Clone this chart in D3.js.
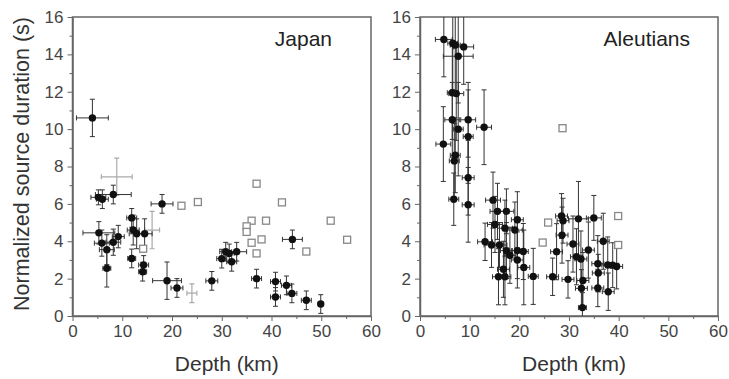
<!DOCTYPE html>
<html>
<head>
<meta charset="utf-8">
<script src="https://cdn.jsdelivr.net/npm/d3@7"></script>
<style>
  body { margin: 0; background: #fff; }
  svg { display: block; font-family: "Liberation Sans", Arial, sans-serif; }
</style>
</head>
<body>
<svg id="chart" width="729" height="379"></svg>
<script>
// Japan, filled symbols: depth (km), duration (s), depth error, duration error
const japanDepth    = [4.0, 5.2, 6.0, 8.2, 18.0, 5.3, 5.9, 6.9, 8.2, 9.2, 6.9, 11.9, 12.2, 12.9, 14.5, 11.9, 14.3, 14.1, 19.0, 21.0, 28.0, 30.0, 30.8, 31.5, 33.0, 32.0, 37.0, 40.8, 40.8, 43.0, 44.1, 44.2, 47.0, 49.9];
const japanDur      = [10.6, 6.35, 6.25, 6.5, 6.0, 4.45, 3.9, 3.55, 3.95, 4.25, 2.55, 5.25, 4.6, 4.4, 4.4, 3.08, 2.73, 2.37, 1.89, 1.5, 1.88, 3.07, 3.44, 3.35, 3.44, 2.9, 2.0, 1.84, 1.02, 1.64, 1.21, 4.1, 0.84, 0.64];
const japanDepthErr = [3.2, 1.5, 1.2, 3.6, 2.2, 3.2, 1.5, 1.5, 1.5, 1.2, 0.8, 1.0, 1.2, 1.5, 1.5, 0.8, 1.0, 0.8, 2.9, 1.2, 1.2, 1.0, 1.2, 1.0, 2.0, 1.0, 1.0, 1.0, 1.0, 1.0, 1.0, 2.0, 1.0, 0.5];
const japanDurErr   = [1.0, 0.4, 0.5, 0.5, 0.5, 0.6, 0.7, 0.8, 0.7, 0.6, 1.0, 0.5, 0.8, 0.8, 0.8, 0.5, 0.5, 0.5, 1.0, 0.5, 0.5, 0.5, 0.5, 0.5, 0.5, 0.5, 0.5, 0.5, 0.5, 0.5, 0.5, 0.5, 0.5, 0.5];

// Japan, grey crosses (no filled symbol)
const japanGreyDepth    = [8.9, 24.0, 16.0];
const japanGreyDur      = [7.45, 1.22, 4.6];
const japanGreyDepthErr = [3.1, 1.0, 1.5];
const japanGreyDurErr   = [1.0, 0.5, 1.0];

// Japan, open squares
const japanOpenDepth = [37.0, 25.2, 21.9, 42.1, 36.0, 38.9, 51.9, 35.0, 35.0, 38.0, 36.0, 55.2, 37.0, 47.0, 14.2];
const japanOpenDur   = [7.08, 6.1, 5.9, 6.08, 5.1, 5.1, 5.1, 4.8, 4.5, 4.1, 3.92, 4.08, 3.35, 3.45, 3.6];

// Aleutians, filled symbols
const aleutDepth    = [4.8, 6.6, 7.1, 8.8, 7.7, 6.5, 7.3, 6.5, 9.7, 7.7, 12.9, 9.7, 4.7, 7.1, 6.9, 9.7, 6.8, 9.7, 14.7, 15.6, 17.4, 19.6, 15.1, 17.1, 19.1, 13.1, 14.4, 16.0, 17.4, 18.1, 19.6, 20.8, 19.6, 20.9, 16.8, 15.8, 17.1, 22.8, 26.7, 27.5, 28.5, 28.8, 28.6, 29.8, 30.8, 31.9, 31.5, 32.4, 32.8, 32.5, 32.7, 33.9, 35.0, 35.8, 35.9, 35.8, 36.9, 37.8, 37.9, 38.8, 39.6];
const aleutDur      = [14.8, 14.6, 14.5, 14.4, 13.9, 11.95, 11.9, 10.5, 10.5, 10.0, 10.1, 9.6, 9.2, 8.6, 8.3, 7.4, 6.25, 5.95, 6.2, 5.6, 5.6, 5.15, 4.9, 4.7, 4.6, 3.97, 3.8, 3.8, 3.5, 3.25, 3.5, 3.45, 3.0, 2.6, 2.5, 2.1, 2.1, 2.12, 2.1, 3.44, 5.35, 5.1, 4.33, 1.96, 3.85, 5.2, 3.17, 3.05, 1.9, 1.48, 0.45, 3.53, 5.25, 2.8, 2.3, 1.5, 4.0, 2.73, 1.3, 2.72, 2.65];
const aleutDepthErr = [1.7, 1.0, 1.0, 2.0, 3.0, 1.0, 1.5, 1.5, 1.5, 1.0, 1.5, 1.0, 1.5, 1.0, 1.0, 1.2, 1.0, 1.2, 1.5, 1.5, 1.5, 1.2, 1.5, 1.5, 1.5, 1.5, 1.5, 1.5, 1.2, 1.2, 1.2, 1.0, 1.2, 1.2, 1.2, 1.2, 1.2, 1.0, 1.2, 1.2, 1.2, 1.2, 1.2, 1.2, 1.2, 2.0, 1.2, 1.2, 1.2, 1.2, 0.8, 1.2, 1.5, 1.2, 1.2, 1.2, 1.2, 1.2, 1.2, 1.2, 1.2];
const aleutDurErr   = [2.0, 2.5, 2.5, 2.0, 2.5, 2.5, 2.5, 2.0, 2.0, 2.5, 2.0, 2.5, 2.0, 2.0, 2.0, 2.0, 1.4, 2.0, 1.5, 1.5, 1.2, 1.5, 1.5, 1.5, 1.5, 1.0, 1.2, 1.2, 1.5, 1.5, 1.5, 1.5, 1.5, 2.0, 1.5, 1.5, 1.5, 1.5, 1.0, 1.5, 1.2, 1.2, 1.5, 1.0, 1.5, 2.0, 1.5, 1.5, 1.5, 1.0, 0.8, 1.5, 1.2, 1.5, 1.0, 1.0, 1.5, 1.5, 1.0, 1.2, 1.2];

// Aleutians, open squares
const aleutOpenDepth = [28.7, 25.8, 24.7, 39.9, 39.9];
const aleutOpenDur   = [10.05, 5.0, 3.93, 5.35, 3.8];

const xMajor = [0, 10, 20, 30, 40, 50, 60];
const xMinor = [5, 15, 25, 35, 45, 55];
const yMajor = [0, 2, 4, 6, 8, 10, 12, 14, 16];
const yMinor = [1, 3, 5, 7, 9, 11, 13, 15];

const svg = d3.select('#chart');
svg.append('rect').attr('width', 729).attr('height', 379).attr('fill', '#fff');

const plotTop = 17, plotBottom = 316;

function zip(xs, ys, xe, ye) {
  return xs.map((d, i) => ({ x: d, y: ys[i], xe: xe ? xe[i] : 0, ye: ye ? ye[i] : 0 }));
}

function drawPanel(id, left, right, title, titleX, filled, grey, open) {
  const x = d3.scaleLinear().domain([0, 60]).range([left, right]);
  const y = d3.scaleLinear().domain([0, 16]).range([plotBottom, plotTop]);

  svg.append('clipPath').attr('id', 'clip' + id)
    .append('rect').attr('x', left).attr('y', plotTop).attr('width', right - left).attr('height', plotBottom - plotTop);

  // frame
  svg.append('rect')
    .attr('x', left).attr('y', plotTop).attr('width', right - left).attr('height', plotBottom - plotTop)
    .attr('fill', 'none').attr('stroke', '#666').attr('stroke-width', 1.5);

  const g = svg.append('g').attr('clip-path', `url(#clip${id})`);

  function errorBars(data, color, width) {
    const cap = 2.5;
    const eb = g.append('g').attr('stroke', color).attr('stroke-width', width).attr('fill', 'none');
    data.forEach(d => {
      const cx = x(d.x), cy = y(d.y);
      if (d.ye) {
        const y0 = y(d.y - d.ye), y1 = y(d.y + d.ye);
        eb.append('line').attr('x1', cx).attr('x2', cx).attr('y1', y0).attr('y2', y1);
        eb.append('line').attr('x1', cx - cap).attr('x2', cx + cap).attr('y1', y0).attr('y2', y0);
        eb.append('line').attr('x1', cx - cap).attr('x2', cx + cap).attr('y1', y1).attr('y2', y1);
      }
      if (d.xe) {
        const x0 = x(d.x - d.xe), x1 = x(d.x + d.xe);
        eb.append('line').attr('x1', x0).attr('x2', x1).attr('y1', cy).attr('y2', cy);
        eb.append('line').attr('x1', x0).attr('x2', x0).attr('y1', cy - cap).attr('y2', cy + cap);
        eb.append('line').attr('x1', x1).attr('x2', x1).attr('y1', cy - cap).attr('y2', cy + cap);
      }
    });
  }

  if (grey) errorBars(grey, '#aaa', 1.2);
  errorBars(filled, '#333', 1);

  // open squares
  g.selectAll('.open').data(open).enter().append('rect')
    .attr('x', d => x(d.x) - 3.5).attr('y', d => y(d.y) - 3.5)
    .attr('width', 7).attr('height', 7)
    .attr('fill', '#fff').attr('stroke', '#888').attr('stroke-width', 1.3);

  // filled symbols
  g.selectAll('.dot').data(filled).enter().append('circle')
    .attr('cx', d => x(d.x)).attr('cy', d => y(d.y)).attr('r', 3.7)
    .attr('fill', '#111');

  // axes
  const ax = svg.append('g').attr('transform', `translate(0,${plotBottom})`)
    .call(d3.axisBottom(x).tickValues(xMajor).tickSize(5).tickPadding(4).tickSizeOuter(0));
  svg.append('g').attr('transform', `translate(0,${plotBottom})`)
    .call(d3.axisBottom(x).tickValues(xMinor).tickSize(3).tickFormat('').tickSizeOuter(0))
    .select('.domain').remove();
  const ay = svg.append('g').attr('transform', `translate(${left},0)`)
    .call(d3.axisLeft(y).tickValues(yMajor).tickSize(5).tickPadding(4).tickSizeOuter(0));
  svg.append('g').attr('transform', `translate(${left},0)`)
    .call(d3.axisLeft(y).tickValues(yMinor).tickSize(3).tickFormat('').tickSizeOuter(0))
    .select('.domain').remove();

  svg.selectAll('.domain').attr('stroke', '#666').attr('stroke-width', 1.5);
  svg.selectAll('.tick line').attr('stroke', '#666');
  [ax, ay].forEach(a => a.selectAll('text')
    .attr('font-size', 17).attr('fill', '#444').attr('font-family', '"Liberation Sans", Arial, sans-serif'));

  svg.append('text')
    .attr('x', titleX).attr('y', 46)
    .attr('text-anchor', 'end').attr('font-size', 21).attr('fill', '#222')
    .text(title);

  svg.append('text')
    .attr('x', (left + right) / 2 + 5).attr('y', 371)
    .attr('text-anchor', 'middle').attr('font-size', 21).attr('fill', '#333')
    .text('Depth (km)');
}

drawPanel('j', 72.5, 371, 'Japan', 332,
  zip(japanDepth, japanDur, japanDepthErr, japanDurErr),
  zip(japanGreyDepth, japanGreyDur, japanGreyDepthErr, japanGreyDurErr),
  zip(japanOpenDepth, japanOpenDur));

drawPanel('a', 420, 718, 'Aleutians', 690,
  zip(aleutDepth, aleutDur, aleutDepthErr, aleutDurErr),
  null,
  zip(aleutOpenDepth, aleutOpenDur));

svg.append('text')
  .attr('transform', 'translate(29,164) rotate(-90)')
  .attr('text-anchor', 'middle').attr('font-size', 21.5).attr('fill', '#333')
  .text('Normalized source duration (s)');
</script>
</body>
</html>
